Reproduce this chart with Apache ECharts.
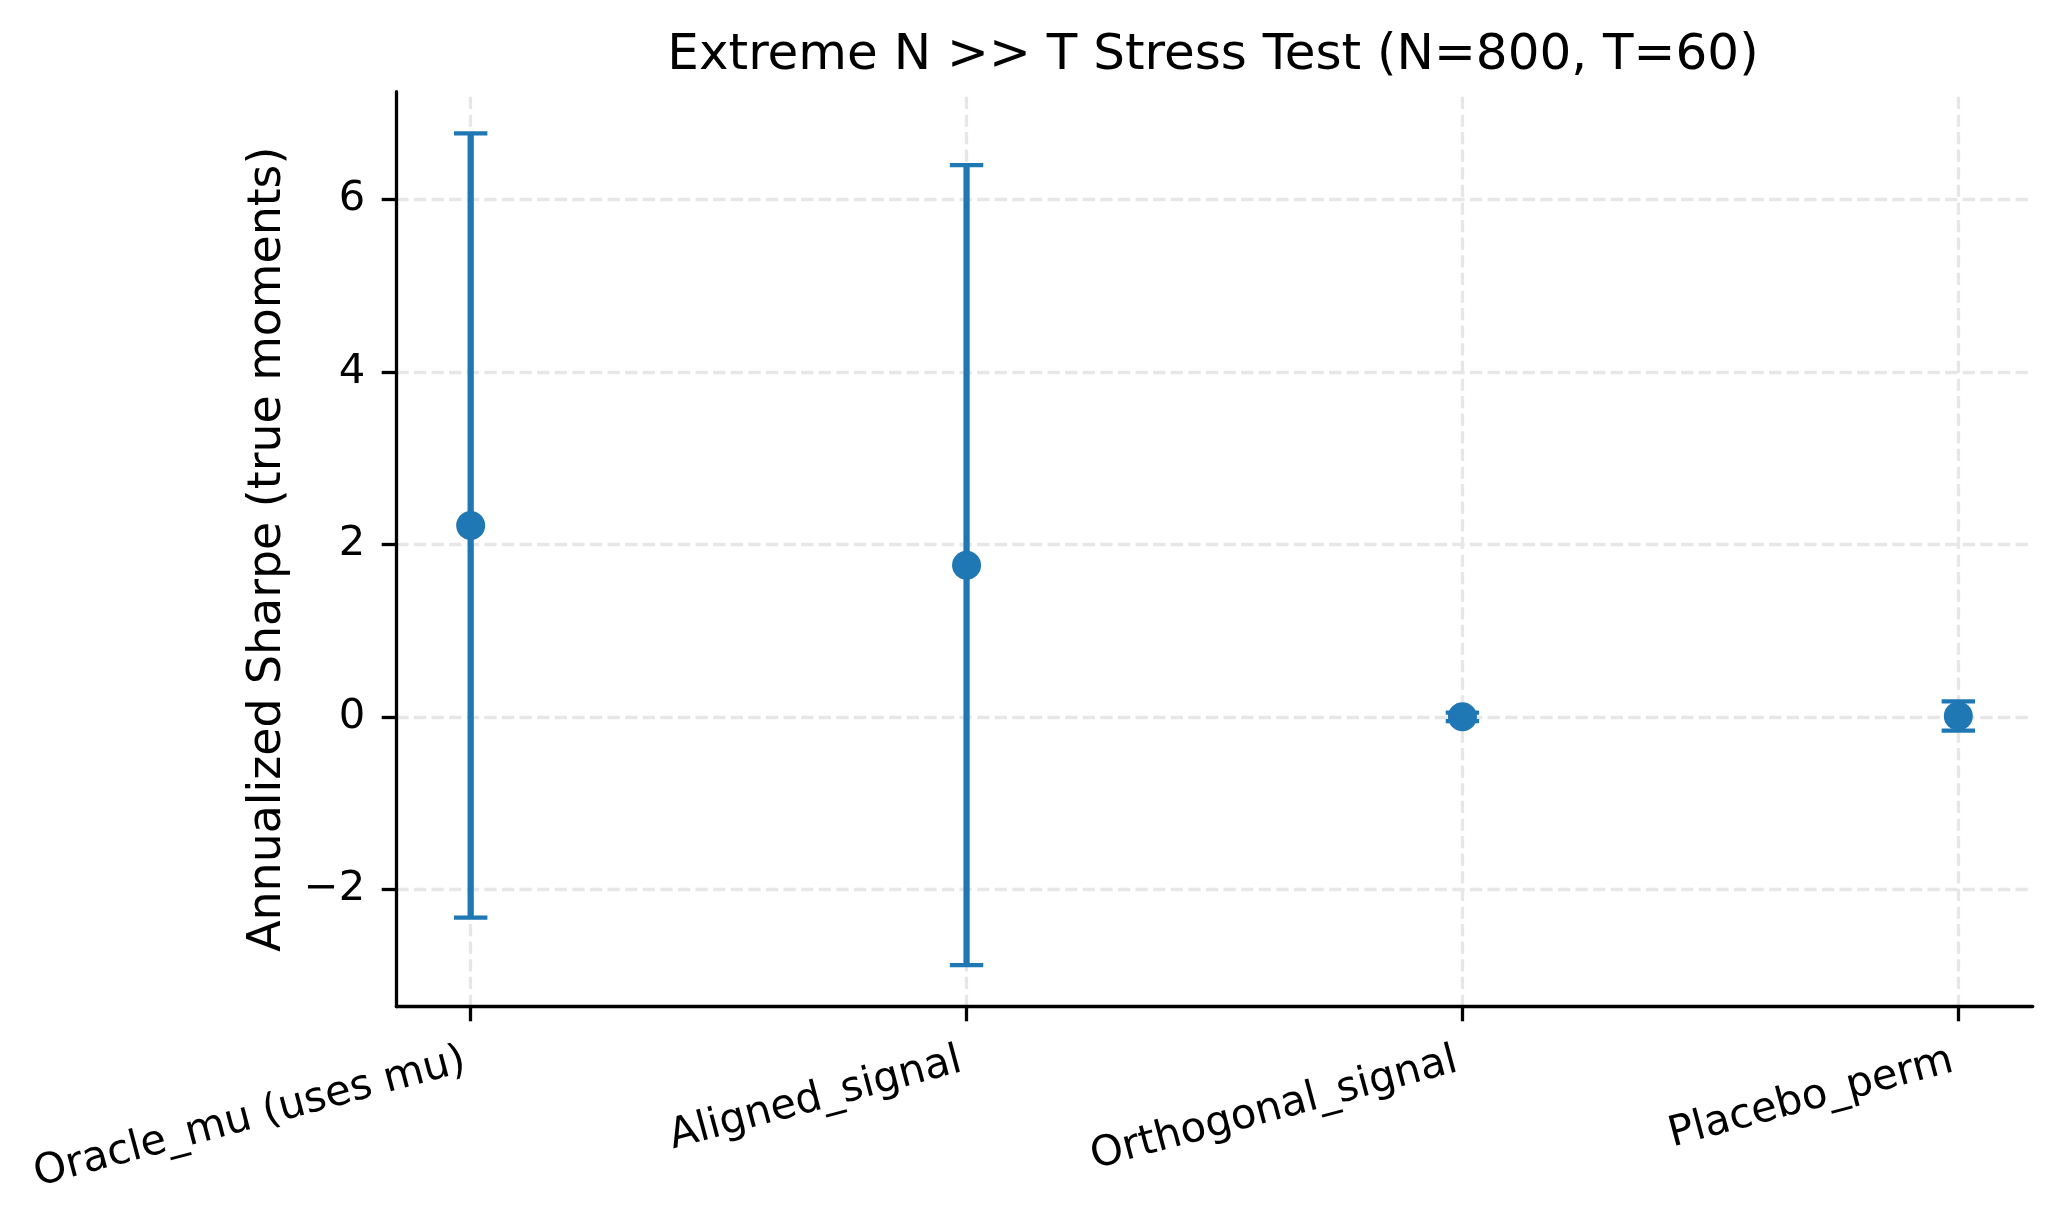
<!DOCTYPE html>
<html>
<head>
<meta charset="utf-8">
<script src="https://cdn.jsdelivr.net/npm/echarts@6/dist/echarts.min.js"></script>
<style>
  html, body { margin: 0; padding: 0; background: #ffffff; }
  #chart { width: 2060px; height: 1220px; }
</style>
</head>
<body>
<div id="chart"></div>
<script>
// ---- data ----
const categories = ['Oracle_mu (uses mu)', 'Aligned_signal', 'Orthogonal_signal', 'Placebo_perm'];
const meanSharpe = [2.22, 1.76, 0.0, 0.01];
const errSharpe = [4.55, 4.64, 0.05, 0.17];
const yTicks = [-2, 0, 2, 4, 6];
const titleText = 'Extreme N >> T Stress Test (N=800, T=60)';
const yLabel = 'Annualized Sharpe (true moments)';

// ---- derived ----
const catIdx = categories.map((c, i) => i);
const lows = meanSharpe.map((m, i) => m - errSharpe[i]);
const highs = meanSharpe.map((m, i) => m + errSharpe[i]);
const lo = Math.min(...lows), hi = Math.max(...highs);
const yPad = (hi - lo) * 0.05;
const xPad = (categories.length - 1) * 0.05;

const FONT = 'DejaVu Sans';
const BLUE = '#1f77b4';
const GRID_STYLE = { color: '#e7e7e7', width: 3.3, type: [12.3, 5.3] };

const chart = echarts.init(document.getElementById('chart'), null, { renderer: 'canvas' });

const option = {
  animation: false,
  backgroundColor: '#ffffff',
  title: {
    text: titleText,
    left: 1208,
    textAlign: 'center',
    top: 26,
    textStyle: { fontFamily: FONT, fontSize: 50, fontWeight: 'normal', color: '#000' }
  },
  grid: { left: 396.3, right: 27.3, top: 91.7, bottom: 213.3, containLabel: false },
  xAxis: {
    type: 'value',
    min: -xPad,
    max: categories.length - 1 + xPad,
    z: 10,
    axisLine: { show: true, onZero: false, lineStyle: { color: '#000', width: 3.3 } },
    axisTick: { show: true, length: 14.6, lineStyle: { color: '#000', width: 3.3 }, customValues: catIdx },
    axisLabel: {
      customValues: catIdx,
      rotate: 15,
      margin: 52,
      padding: [0, 6, 0, 0],
      fontFamily: FONT,
      fontSize: 41.7,
      color: '#000',
      formatter: v => categories[Math.round(v)]
    },
    splitLine: { show: false }
  },
  yAxis: {
    type: 'value',
    min: lo - yPad,
    max: hi + yPad,
    z: 10,
    name: yLabel,
    nameLocation: 'middle',
    nameRotate: 90,
    nameGap: 105,
    nameTextStyle: { fontFamily: FONT, fontSize: 45.8, color: '#000' },
    axisLine: { show: true, onZero: false, lineStyle: { color: '#000', width: 3.3 } },
    axisTick: { show: true, length: 14.6, lineStyle: { color: '#000', width: 3.3 }, customValues: yTicks },
    axisLabel: {
      customValues: yTicks,
      margin: 31,
      fontFamily: FONT,
      fontSize: 41.7,
      color: '#000',
      formatter: v => (v < 0 ? '\u2212' + Math.abs(v) : String(v))
    },
    splitLine: { show: false }
  },
  series: [
    {
      name: 'grid',
      type: 'scatter',
      z: 1,
      symbolSize: 0,
      silent: true,
      data: catIdx.map(i => [i, meanSharpe[i]]),
      markLine: {
        z: 1,
        silent: true,
        symbol: ['none', 'none'],
        label: { show: false },
        lineStyle: GRID_STYLE,
        emphasis: { disabled: true },
        data: [
          ...catIdx.map(i => ({ xAxis: i })),
          ...yTicks.map(t => ({ yAxis: t }))
        ]
      }
    },
    {
      name: 'errorbars',
      type: 'custom',
      z: 3,
      silent: true,
      data: catIdx.map(i => [i, lows[i], highs[i]]),
      renderItem: function (params, api) {
        const x = api.value(0);
        const pLo = api.coord([x, api.value(1)]);
        const pHi = api.coord([x, api.value(2)]);
        const capHalf = 16.7;
        const style = { stroke: BLUE, lineWidth: 6.25 };
        const capStyle = { stroke: BLUE, lineWidth: 4.17 };
        return {
          type: 'group',
          children: [
            { type: 'line', shape: { x1: pLo[0], y1: pLo[1], x2: pHi[0], y2: pHi[1] }, style: style },
            { type: 'line', shape: { x1: pLo[0] - capHalf, y1: pLo[1], x2: pLo[0] + capHalf, y2: pLo[1] }, style: capStyle },
            { type: 'line', shape: { x1: pHi[0] - capHalf, y1: pHi[1], x2: pHi[0] + capHalf, y2: pHi[1] }, style: capStyle }
          ]
        };
      }
    },
    {
      name: 'mean',
      type: 'scatter',
      z: 4,
      symbol: 'circle',
      symbolSize: 29,
      itemStyle: { color: BLUE, opacity: 1 },
      data: catIdx.map(i => [i, meanSharpe[i]])
    }
  ]
};

chart.setOption(option);
</script>
</body>
</html>
